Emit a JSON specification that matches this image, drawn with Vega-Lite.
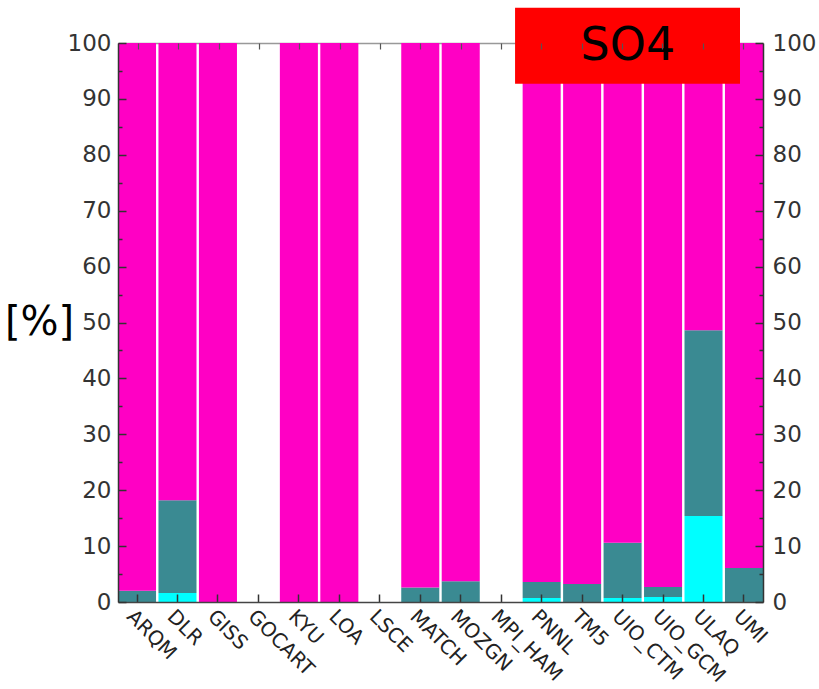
{
  "$schema": "https://vega.github.io/schema/vega-lite/v6.json",
  "autosize": "none",
  "padding": {"left": 118, "top": 43, "right": 56, "bottom": 87},
  "width": 645,
  "height": 559,
  "background": "white",
  "config": {"view": {"stroke": null}},
  "datasets": {
    "bars": [
      {"model": "ARQM", "component": "cyan", "k": 1, "value": 0},
      {"model": "ARQM", "component": "teal", "k": 2, "value": 2.0},
      {"model": "ARQM", "component": "magenta", "k": 3, "value": 98.0},
      {"model": "DLR", "component": "cyan", "k": 1, "value": 1.6},
      {"model": "DLR", "component": "teal", "k": 2, "value": 16.6},
      {"model": "DLR", "component": "magenta", "k": 3, "value": 81.8},
      {"model": "GISS", "component": "magenta", "k": 3, "value": 100},
      {"model": "KYU", "component": "magenta", "k": 3, "value": 100},
      {"model": "LOA", "component": "magenta", "k": 3, "value": 100},
      {"model": "MATCH", "component": "teal", "k": 2, "value": 2.6},
      {"model": "MATCH", "component": "magenta", "k": 3, "value": 97.4},
      {"model": "MOZGN", "component": "teal", "k": 2, "value": 3.7},
      {"model": "MOZGN", "component": "magenta", "k": 3, "value": 96.3},
      {"model": "PNNL", "component": "cyan", "k": 1, "value": 0.7},
      {"model": "PNNL", "component": "teal", "k": 2, "value": 2.9},
      {"model": "PNNL", "component": "magenta", "k": 3, "value": 96.4},
      {"model": "TM5", "component": "teal", "k": 2, "value": 3.2},
      {"model": "TM5", "component": "magenta", "k": 3, "value": 96.8},
      {"model": "UIO_CTM", "component": "cyan", "k": 1, "value": 0.7},
      {"model": "UIO_CTM", "component": "teal", "k": 2, "value": 9.9},
      {"model": "UIO_CTM", "component": "magenta", "k": 3, "value": 89.4},
      {"model": "UIO_GCM", "component": "cyan", "k": 1, "value": 0.9},
      {"model": "UIO_GCM", "component": "teal", "k": 2, "value": 1.8},
      {"model": "UIO_GCM", "component": "magenta", "k": 3, "value": 97.3},
      {"model": "ULAQ", "component": "cyan", "k": 1, "value": 15.4},
      {"model": "ULAQ", "component": "teal", "k": 2, "value": 33.2},
      {"model": "ULAQ", "component": "magenta", "k": 3, "value": 51.4},
      {"model": "UMI", "component": "teal", "k": 2, "value": 6.1},
      {"model": "UMI", "component": "magenta", "k": 3, "value": 93.9}
    ],
    "label": [
      {"x1": 9.85, "x2": 15.43, "y1": 92.7, "y2": 106.3, "tx": 12.65, "ty": 99.4, "text": "SO4"}
    ]
  },
  "layer": [
    {
      "data": {"name": "bars"},
      "mark": {"type": "bar"},
      "encoding": {
        "x": {
          "field": "model", "type": "nominal",
          "scale": {"domain": ["ARQM","DLR","GISS","GOCART","KYU","LOA","LSCE","MATCH","MOZGN","MPI_HAM","PNNL","TM5","UIO_CTM","UIO_GCM","ULAQ","UMI"], "paddingInner": 0.06, "paddingOuter": 0},
          "axis": {
            "orient": "bottom", "title": null, "labelAngle": 45, "labelAlign": "left", "labelBaseline": "top",
            "labelFont": "DejaVu Sans", "labelFontSize": 20, "labelColor": "#222",
            "tickSize": -8, "tickColor": "#333", "tickWidth": 1.5, "labelPadding": 12,
            "domainColor": "#444", "domainWidth": 1.5, "zindex": 1
          }
        },
        "y": {
          "field": "value", "type": "quantitative", "stack": "zero",
          "scale": {"domain": [0, 100], "nice": false},
          "axis": {
            "orient": "left", "values": [0,5,10,15,20,25,30,35,40,45,50,55,60,65,70,75,80,85,90,95,100],
            "labelExpr": "datum.value % 10 === 0 ? datum.label : ''",
            "tickSize": {"condition": {"test": "datum.value % 10 === 0", "value": -8}, "value": -4},
            "tickColor": "#333", "tickWidth": 1.5, "labelPadding": 15,
            "labelFont": "DejaVu Sans", "labelFontSize": 23, "labelColor": "#333",
            "domainColor": "#333", "domainWidth": 1.5, "grid": false, "zindex": 1,
            "title": "[%]", "titleAngle": 0, "titleFont": "DejaVu Sans", "titleFontSize": 40, "titleFontWeight": "normal",
            "titleColor": "#000", "titleX": -79, "titleY": 279, "titleAlign": "center", "titleBaseline": "middle"
          }
        },
        "color": {
          "field": "component", "type": "nominal",
          "scale": {"domain": ["cyan", "teal", "magenta"], "range": ["#00ffff", "#3a8a92", "#ff00c4"]},
          "legend": null
        },
        "order": {"field": "k", "type": "quantitative"}
      }
    },
    {
      "data": {"name": "bars"},
      "mark": {"type": "point", "opacity": 0},
      "encoding": {
        "x": {
          "field": "model", "type": "nominal",
          "scale": {"domain": ["ARQM","DLR","GISS","GOCART","KYU","LOA","LSCE","MATCH","MOZGN","MPI_HAM","PNNL","TM5","UIO_CTM","UIO_GCM","ULAQ","UMI"], "paddingInner": 0.06, "paddingOuter": 0},
          "axis": {"orient": "top", "title": null, "labels": false, "tickSize": -6, "tickColor": "#555", "tickWidth": 1.2, "domain": false, "zindex": 1}
        },
        "y": {
          "field": "value", "type": "quantitative", "stack": null,
          "scale": {"domain": [0, 100], "nice": false},
          "axis": {
            "orient": "right", "values": [0,5,10,15,20,25,30,35,40,45,50,55,60,65,70,75,80,85,90,95,100],
            "labelExpr": "datum.value % 10 === 0 ? datum.label : ''",
            "tickSize": {"condition": {"test": "datum.value % 10 === 0", "value": -8}, "value": -4},
            "tickColor": "#333", "tickWidth": 1.5, "labelPadding": 17,
            "labelFont": "DejaVu Sans", "labelFontSize": 23, "labelColor": "#333",
            "domainColor": "#333", "domainWidth": 1.5, "grid": false, "title": null, "zindex": 1
          }
        }
      }
    },
    {
      "data": {"name": "label"},
      "layer": [
        {
          "mark": {"type": "rect", "color": "#ff0000", "clip": false},
          "encoding": {
            "x": {"field": "x1", "type": "quantitative", "scale": {"domain": [0, 16], "nice": false},
                  "axis": {"orient": "top", "title": null, "labels": false, "ticks": false, "grid": false, "domain": true, "domainColor": "#999", "domainWidth": 1.5, "zindex": 0}},
            "x2": {"field": "x2"},
            "y": {"field": "y1", "type": "quantitative", "scale": {"domain": [0, 100], "nice": false}, "axis": null},
            "y2": {"field": "y2"}
          }
        },
        {
          "mark": {"type": "text", "font": "DejaVu Sans", "fontSize": 46, "color": "#000", "align": "center", "baseline": "middle", "clip": false},
          "encoding": {
            "x": {"field": "tx", "type": "quantitative", "scale": {"domain": [0, 16], "nice": false}},
            "y": {"field": "ty", "type": "quantitative", "scale": {"domain": [0, 100], "nice": false}, "axis": null},
            "text": {"field": "text"}
          }
        }
      ]
    }
  ],
  "resolve": {"scale": {"x": "independent"}, "axis": {"x": "independent", "y": "independent"}}
}
